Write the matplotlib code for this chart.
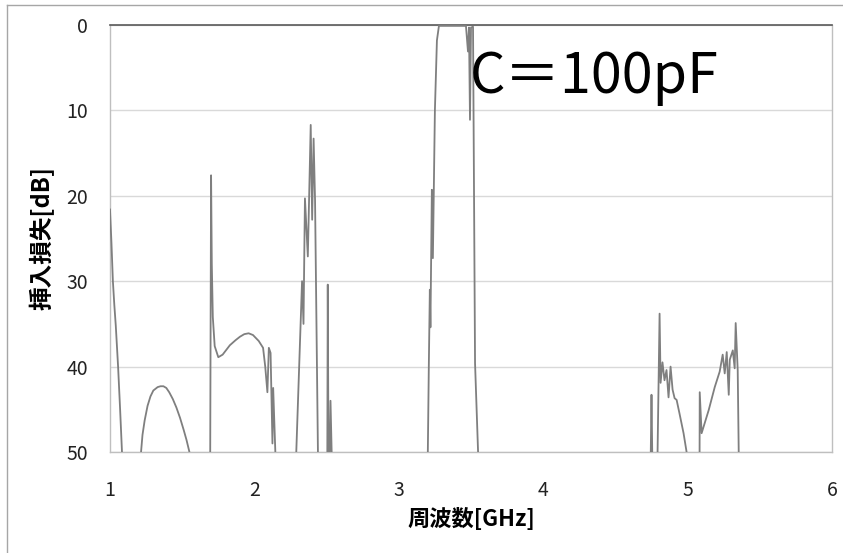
import matplotlib
matplotlib.use("Agg")
import matplotlib.pyplot as plt
import numpy as np
from matplotlib.lines import Line2D

plt.rcParams["font.family"] = ["Noto Sans CJK JP", "DejaVu Sans"]

NAN = np.nan

# frequency [GHz] / insertion loss [dB]; NaN breaks where the trace goes below 50 dB
freq = [
    1.000, 1.010, 1.020, 1.030, 1.040, 1.056, 1.070, 1.083, NAN,
    1.215, 1.225, 1.240, 1.260, 1.280, 1.300, 1.330, 1.350, 1.370, 1.390, 1.410,
    1.435, 1.460, 1.485, 1.510, 1.530, 1.550, NAN,
    1.694, 1.700, 1.705, 1.712, 1.725, 1.750, 1.780, 1.830, 1.870, 1.900, 1.930,
    1.960, 1.990, 2.030, 2.060, 2.075,
    2.090, 2.100, 2.112, 2.125, 2.130, 2.145, NAN,
    2.290, 2.330, 2.340, 2.350, 2.370, 2.390, 2.400, 2.410, 2.420, 2.440, NAN,
    2.505, 2.508, 2.513, NAN,
    2.522, 2.527, 2.535, NAN,
    3.201, 3.208, 3.215, 3.219, 3.229, 3.236, 3.250, 3.264, 3.278, 3.350, 3.420,
    3.465, 3.479, 3.486, 3.493, 3.500, 3.514, 3.528, 3.549, NAN,
    4.745, 4.750, 4.755, NAN,
    4.792, 4.806, 4.813, 4.826, 4.840, 4.854, 4.868, 4.882, 4.896, 4.910, 4.924,
    4.944, 4.972, 4.993, NAN,
    5.083, 5.084, 5.097, 5.146, 5.188, 5.222, 5.243, 5.257, 5.271, 5.285, 5.292,
    5.313, 5.326, 5.333, 5.347, 5.354,
]
loss = [
    21.6, 25.5, 30.0, 32.8, 35.2, 40.0, 45.0, 50.0, NAN,
    50.0, 48.0, 46.3, 44.6, 43.5, 42.8, 42.4, 42.3, 42.3, 42.5, 43.0,
    43.8, 44.8, 46.0, 47.4, 48.6, 50.0, NAN,
    50.0, 17.6, 28.0, 34.2, 37.6, 38.9, 38.6, 37.5, 36.9, 36.5, 36.2,
    36.1, 36.3, 37.0, 37.8, 40.0,
    43.0, 37.8, 38.4, 49.0, 42.5, 50.0, NAN,
    50.0, 30.0, 35.0, 20.3, 27.1, 11.7, 22.8, 13.3, 20.5, 50.0, NAN,
    50.0, 30.4, 50.0, NAN,
    50.0, 44.0, 50.0, NAN,
    50.0, 39.8, 31.0, 35.4, 19.3, 27.3, 10.0, 1.8, 0.1, 0.1, 0.1,
    0.1, 3.1, 0.3, 11.1, 0.3, 0.2, 39.6, 50.0, NAN,
    50.0, 43.3, 50.0, NAN,
    50.0, 33.8, 41.9, 39.5, 41.6, 40.4, 43.6, 40.0, 42.7, 43.7, 43.9,
    45.5, 47.8, 50.0, NAN,
    50.0, 43.0, 47.8, 45.1, 42.4, 40.6, 38.6, 40.8, 38.3, 43.3, 39.2,
    38.1, 40.2, 34.9, 40.4, 50.0,
]

x_ticks = [1, 2, 3, 4, 5, 6]
y_ticks = [0, 10, 20, 30, 40, 50]


def main() -> None:
    fig = plt.figure(figsize=(8.43, 5.53), dpi=100)
    ax = fig.add_axes([110 / 843, 1 - 452 / 553, 722 / 843, 427 / 553])

    ax.plot(freq, loss, color="#7f7f7f", linewidth=1.3, zorder=3)

    ax.set_xlim(1, 6)
    ax.set_ylim(50, 0)
    ax.set_xticks(x_ticks)
    ax.set_yticks(y_ticks)
    ax.tick_params(length=0, labelsize=14, colors="#222222")
    ax.tick_params(axis="x", pad=20)
    ax.tick_params(axis="y", pad=16)
    ax.yaxis.grid(True, color="#d9d9d9", linewidth=1.0)
    ax.set_axisbelow(True)
    for side in ("left", "right", "bottom"):
        ax.spines[side].set_color("#bfbfbf")
        ax.spines[side].set_linewidth(1.0)
    ax.spines["top"].set_color("#595959")
    ax.spines["top"].set_linewidth(1.2)

    ax.set_xlabel("周波数[GHz]", fontsize=16, fontweight="bold", labelpad=5)
    ax.set_ylabel("挿入損失[dB]", fontsize=17, fontweight="bold", labelpad=8)

    ax.text(3.49, 6.1, "C＝100pF", fontsize=40, color="black", va="center", ha="left", zorder=5)

    # outer chart frame (cropped: only top and left edges visible)
    fig.add_artist(Line2D([7 / 843, 1], [1 - 5 / 553, 1 - 5 / 553], color="#a6a6a6", linewidth=1.0))
    fig.add_artist(Line2D([7 / 843, 7 / 843], [0, 1 - 5 / 553], color="#a6a6a6", linewidth=1.0))

    fig.savefig("out.png", dpi=100, facecolor="white")
    plt.close(fig)


if __name__ == "__main__":
    main()
